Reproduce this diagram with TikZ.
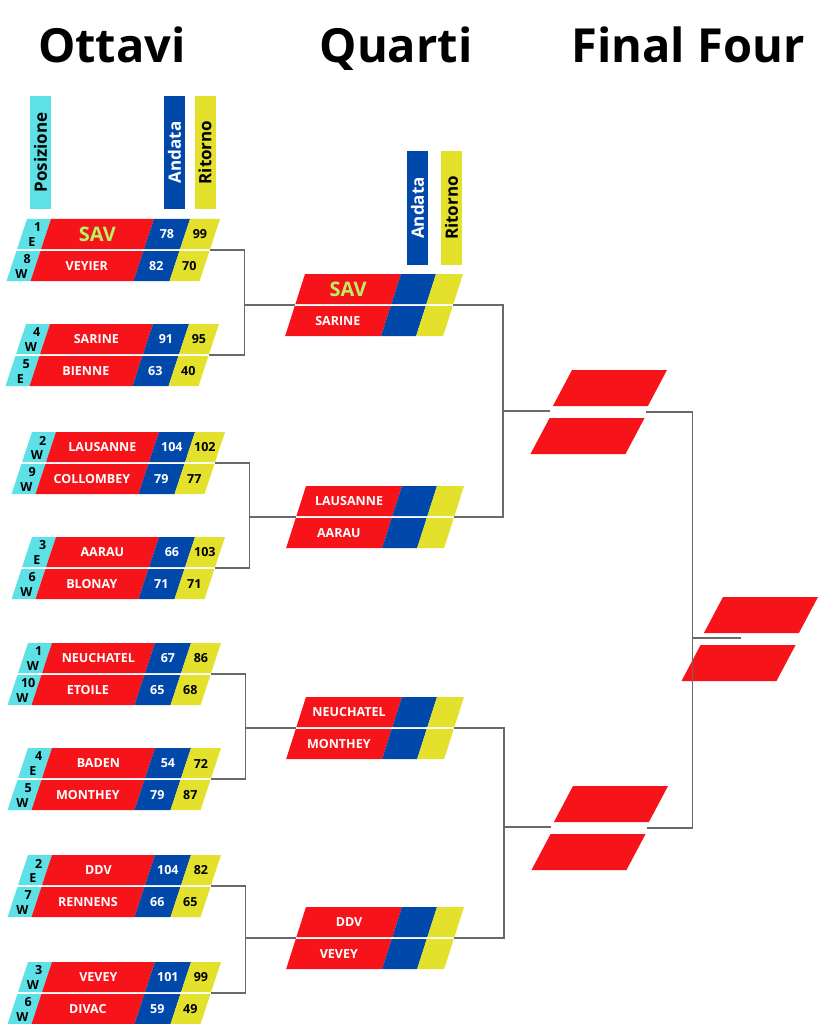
\documentclass[tikz,border=0pt]{standalone}
\usepackage{fontspec}
\setmainfont{Open Sans}
\usetikzlibrary{calc}

\definecolor{posizione}{RGB}{94,225,230}
\definecolor{squadra}{RGB}{246,20,26}
\definecolor{andata}{RGB}{0,72,170}
\definecolor{ritorno}{RGB}{228,225,45}
\definecolor{savgreen}{RGB}{185,240,100}
\definecolor{linea}{RGB}{105,105,105}

\tikzset{
    team/.style = {text=white, inner sep=0, font=\bfseries\fontsize{12.5}{12.5}\selectfont},
    score/.style = {inner sep=0, font=\bfseries\fontsize{12.5}{12.5}\selectfont},
    seed/.style = {inner sep=0, font=\bfseries\fontsize{12.5}{12.5}\selectfont},
    header/.style = {rotate=90, minimum width=113, minimum height=21, inner sep=0,
        font=\bfseries\fontsize{17}{17}\selectfont},
    roundtitle/.style = {anchor=base, font=\bfseries\fontsize{47}{47}\selectfont},
    link/.style = {draw=linea, line width=1.3}
}

\newcommand{\sav}{\color{savgreen}\fontsize{20}{20}\selectfont}

\newcommand{\riga}[7]{%
      \node[seed] (#1-num) at (13.5,#2+8.5) {#3};
      \node[seed] (#1-zona) at (12.5,#2+23) {#4};
      \node[team] (#1-team) at (75.5,#2+15.5) {#5};
      \node[team] (#1-and) at (145,#2+15.5) {#6};
      \node[score] (#1-rit) at (178,#2+15.5) {#7};}

\newcommand{\ottavo}[3]{%
    \begin{scope}[shift={(#2)}, xslant=0.33]
      \fill[posizione] (0,0) rectangle (24,30) (0,32) rectangle (24,62);
      \fill[squadra] (24,0) rectangle (127,30) (24,32) rectangle (127,62);
      \fill[andata] (127,0) rectangle (163,30) (127,32) rectangle (163,62);
      \fill[ritorno] (163,0) rectangle (193,30) (163,32) rectangle (193,62);
      \coordinate (#1-r) at (193,31);
      #3
    \end{scope}}

\newcommand{\quarto}[4]{%
    \begin{scope}[shift={(#2)}, xslant=0.32]
      \fill[squadra] (0,0) rectangle (96,30) (0,32) rectangle (96,62);
      \fill[andata] (96,0) rectangle (131,30) (96,32) rectangle (131,62);
      \fill[ritorno] (131,0) rectangle (158,30) (131,32) rectangle (158,62);
      \coordinate (#1-l) at (0,31);
      \coordinate (#1-r) at (158,31);
      \node[team] (#1-a) at (48,15.5) {#3};
      \node[team] (#1-b) at (48,47.5) {#4};
    \end{scope}}

\newcommand{\vuoto}[2]{%
    \begin{scope}[shift={(#2)}, xslant=0.53]
      \fill[squadra] (0,0) rectangle (95,36) (3,48) rectangle (98,84);
      \coordinate (#1-l) at (0,41);
      \coordinate (#1-r) at (96,42);
    \end{scope}}

\begin{document}
\begin{tikzpicture}[x=1pt, y=-1pt]
    \useasboundingbox (0,0) rectangle (819,1024);

    \node[roundtitle] (ottavi) at (112,63) {Ottavi};
    \node[roundtitle] (quarti) at (396,63) {Quarti};
    \node[roundtitle] (final) at (688,63) {Final Four};

    \node[header, fill=posizione] (o-pos) at (40.5,152.5) {Posizione};
    \node[header, fill=andata, text=white] (o-and) at (174.5,152.5) {Andata};
    \node[header, fill=ritorno] (o-rit) at (205,152.5) {Ritorno};
    \node[header, fill=andata, text=white] (q-and) at (417.5,208) {Andata};
    \node[header, fill=ritorno] (q-rit) at (451.5,208) {Ritorno};

    \ottavo{m1}{27,219}{
      \riga{m1a}{0}{1}{E}{\sav SAV}{78}{99}
      \riga{m1b}{32}{8}{W}{VEYIER}{82}{70}}
    \ottavo{m2}{26,324}{
      \riga{m2a}{0}{4}{W}{SARINE}{91}{95}
      \riga{m2b}{32}{5}{E}{BIENNE}{63}{40}}
    \ottavo{m3}{32,432}{
      \riga{m3a}{0}{2}{W}{LAUSANNE}{104}{102}
      \riga{m3b}{32}{9}{W}{COLLOMBEY}{79}{77}}
    \ottavo{m4}{32,537}{
      \riga{m4a}{0}{3}{E}{AARAU}{66}{103}
      \riga{m4b}{32}{6}{W}{BLONAY}{71}{71}}
    \ottavo{m5}{28,643}{
      \riga{m5a}{0}{1}{W}{NEUCHATEL}{67}{86}
      \riga{m5b}{32}{10}{W}{ETOILE}{65}{68}}
    \ottavo{m6}{28,748}{
      \riga{m6a}{0}{4}{E}{BADEN}{54}{72}
      \riga{m6b}{32}{5}{W}{MONTHEY}{79}{87}}
    \ottavo{m7}{28,855}{
      \riga{m7a}{0}{2}{E}{DDV}{104}{82}
      \riga{m7b}{32}{7}{W}{RENNENS}{66}{65}}
    \ottavo{m8}{28,962}{
      \riga{m8a}{0}{3}{W}{VEVEY}{101}{99}
      \riga{m8b}{32}{6}{W}{DIVAC}{59}{49}}

    \quarto{q1}{305,274}{\sav SAV}{SARINE}
    \quarto{q2}{306,486}{LAUSANNE}{AARAU}
    \quarto{q3}{306,697}{NEUCHATEL}{MONTHEY}
    \quarto{q4}{306,907}{DDV}{VEVEY}

    \vuoto{f1}{572,370}
    \vuoto{f2}{573,786}
    \vuoto{fin}{723,597}

    \coordinate (o12) at ($(m1-r)+(35,0)$);
    \coordinate (o34) at ($(m3-r)+(35,0)$);
    \coordinate (o56) at ($(m5-r)+(35,0)$);
    \coordinate (o78) at ($(m7-r)+(35,0)$);
    \draw[link] (m1-r) -- (o12) |- (m2-r);
    \draw[link] (m3-r) -- (o34) |- (m4-r);
    \draw[link] (m5-r) -- (o56) |- (m6-r);
    \draw[link] (m7-r) -- (o78) |- (m8-r);
    \draw[link] (q1-l) -- (q1-l -| o12);
    \draw[link] (q2-l) -- (q2-l -| o34);
    \draw[link] (q3-l) -- (q3-l -| o56);
    \draw[link] (q4-l) -- (q4-l -| o78);

    \coordinate (q12) at ($(q1-r)+(50,0)$);
    \coordinate (q34) at ($(q3-r)+(50,0)$);
    \draw[link] (q1-r) -- (q12) |- (q2-r);
    \draw[link] (q3-r) -- (q34) |- (q4-r);
    \draw[link] (f1-l) -- (f1-l -| q12);
    \draw[link] (f2-l) -- (f2-l -| q34);

    \coordinate (ff) at ($(f1-r)+(47,0)$);
    \coordinate (fin-c) at ($(fin-l)+(40,0)$);
    \draw[link] (f1-r) -- (ff) |- (f2-r);
    \draw[link] (fin-c) -- (fin-c -| ff);
\end{tikzpicture}
\end{document}
